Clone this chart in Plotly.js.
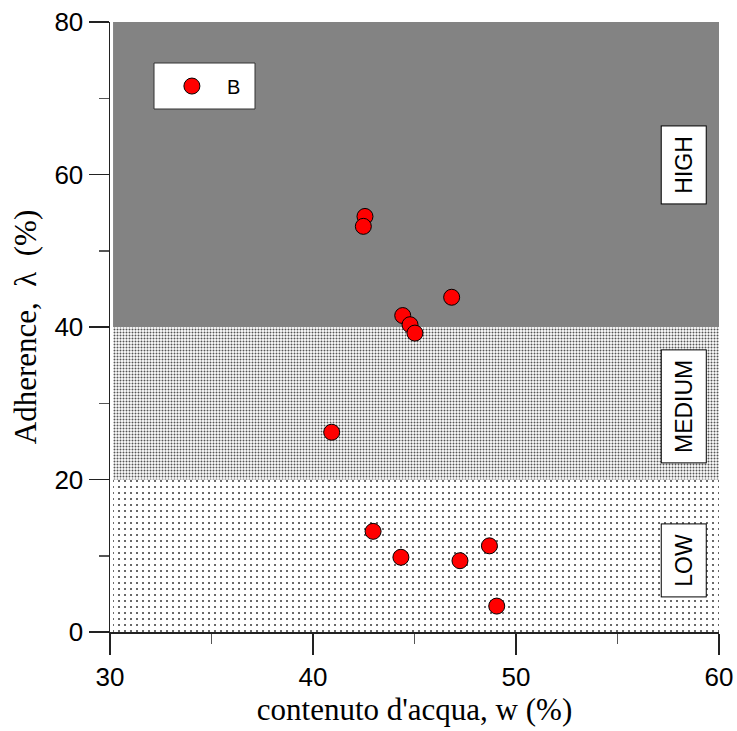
<!DOCTYPE html>
<html>
<head>
<meta charset="utf-8">
<script src="https://cdn.plot.ly/plotly-3.0.1.min.js"></script>
<style>html,body{margin:0;padding:0;background:#fff;}#chart{width:737px;height:731px;}</style>
</head>
<body>
<div id="chart"></div>
<script>
// Data
const waterContent = [42.56, 42.48, 46.83, 44.42, 44.78, 45.02, 40.92, 42.96, 44.33, 47.24, 48.69, 49.05];
const adherence    = [54.5, 53.2, 43.9, 41.5, 40.3, 39.2, 26.2, 13.2, 9.8, 9.35, 11.3, 3.4];
const seriesName = "B";

// Adherence classes (band limits, %)
const classNames = ["LOW", "MEDIUM", "HIGH"];
const classLower = [0, 20, 40];
const classUpper = [20, 40, 80];
const bandX = [30.15, 60];

const xTicks = [30, 40, 50, 60];
const yTicks = [0, 20, 40, 60, 80];

const patterns = [
  {shape: ".", bgcolor: "#ffffff", fgcolor: "#444444", size: 6, solidity: 0.1},
  {shape: ".", bgcolor: "#ffffff", fgcolor: "#555555", size: 3, solidity: 0.35},
  {shape: ".", bgcolor: "#ababab", fgcolor: "#505050", size: 2, solidity: 0.5}
];

const traces = [];
classNames.forEach((n, i) => {
  traces.push({
    type: "scatter", mode: "none",
    x: [bandX[0], bandX[1], bandX[1], bandX[0], bandX[0]],
    y: [classLower[i], classLower[i], classUpper[i], classUpper[i], classLower[i]],
    fill: "toself", fillcolor: patterns[i].bgcolor,
    fillpattern: patterns[i],
    showlegend: false, hoverinfo: "skip"
  });
});
traces.push({
  type: "scatter", mode: "markers", name: seriesName,
  x: waterContent, y: adherence,
  marker: {size: 16, color: "#ff0000", line: {color: "#000000", width: 1}},
  showlegend: true
});

const labelY = [9.4, 29.6, 61.2];
const labelLen = [72, 112, 77];
const annotations = classNames.map((n, i) => ({
  x: 58.28, y: labelY[i], xref: "x", yref: "y",
  text: n, showarrow: false, textangle: -90,
  font: {family: "Liberation Sans, Arial, sans-serif", size: 23, color: "#000"},
  bgcolor: "#ffffff", bordercolor: "#000000", borderwidth: 1,
  width: labelLen[i], height: 44, borderpad: 0
}));

const layout = {
  width: 737, height: 731,
  margin: {l: 110, r: 18, t: 22, b: 99},
  paper_bgcolor: "#ffffff", plot_bgcolor: "#ffffff",
  showlegend: true,
  legend: {
    x: 0.077, y: 0.895, xanchor: "left", yanchor: "middle",
    bgcolor: "rgba(0,0,0,0)", borderwidth: 0,
    itemwidth: 60,
    font: {family: "Liberation Sans, Arial, sans-serif", size: 20, color: "#000"}
  },
  shapes: [{
    type: "rect", xref: "paper", yref: "paper",
    x0: (154 - 110) / 609, x1: (255 - 110) / 609,
    y0: (632 - 109) / 610, y1: (632 - 63) / 610,
    fillcolor: "#ffffff", line: {color: "#333333", width: 1}, layer: "above"
  }],
  annotations: annotations,
  xaxis: {
    range: [30, 60], tickvals: xTicks, ticktext: xTicks.map(String),
    showgrid: false, zeroline: false,
    showline: true, linecolor: "#222", linewidth: 1.5,
    ticks: "outside", ticklen: 21, tickwidth: 1.5, tickcolor: "#222",
    minor: {dtick: 5, ticks: "outside", ticklen: 10, tickwidth: 1.5, tickcolor: "#555", showgrid: false},
    tickfont: {family: "Liberation Sans, Arial, sans-serif", size: 26, color: "#000"},
    title: {text: "contenuto d'acqua, w (%)", standoff: 6,
            font: {family: "Liberation Serif, Times New Roman, serif", size: 31, color: "#000"}}
  },
  yaxis: {
    range: [0, 80], tickvals: yTicks, ticktext: yTicks.map(String),
    showgrid: false, zeroline: false,
    showline: true, linecolor: "#222", linewidth: 1.5,
    ticks: "outside", ticklen: 20, tickwidth: 1.5, tickcolor: "#222",
    minor: {dtick: 10, ticks: "outside", ticklen: 10, tickwidth: 1.5, tickcolor: "#555", showgrid: false},
    tickfont: {family: "Liberation Sans, Arial, sans-serif", size: 26, color: "#000"},
    title: {text: "Adherence,\u00a0\u00a0λ\u00a0\u00a0(%)", standoff: 8,
            font: {family: "Liberation Serif, Times New Roman, serif", size: 31, color: "#000"}}
  }
};

Plotly.newPlot("chart", traces, layout, {displayModeBar: false, staticPlot: true});
</script>
</body>
</html>
